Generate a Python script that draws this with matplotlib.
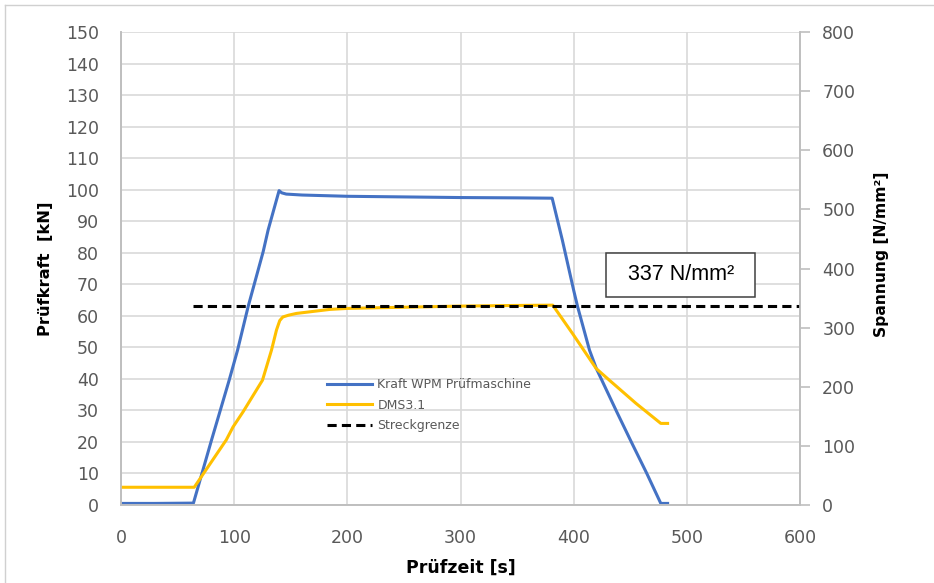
import matplotlib
matplotlib.use("Agg")
import matplotlib.pyplot as plt
from matplotlib.patches import Rectangle
from matplotlib.lines import Line2D

# Prüfkraft der Prüfmaschine [kN] über der Zeit [s]
t_kraft = [0, 30, 64, 80, 95.6, 103, 112.4, 125.6, 130, 139.7, 142, 146, 160, 200,
           250, 300, 350, 381, 390, 400, 403.4, 414, 420, 438, 451.6, 464.5, 477, 483]
kraft = [0.5, 0.5, 0.6, 20.6, 39.6, 49.1, 63.0, 80.3, 87.2, 99.7, 99.0, 98.6, 98.3, 97.9,
         97.7, 97.5, 97.4, 97.3, 84.0, 68.1, 63.0, 49.1, 43.3, 29.6, 19.5, 10.1, 0.5, 0.5]

# Spannung aus Dehnmessstreifen DMS3.1 [N/mm²]
t_dms = [0, 64.7, 93, 99, 108, 125, 133, 137.4, 140.3, 143, 148, 155, 184.5, 200,
         250, 300, 350, 381.5, 399, 419.8, 431.6, 455, 477, 483]
dms = [30, 30, 110, 132, 158, 211, 262, 296, 312, 318, 321, 324, 330.8, 332.5,
       334.5, 336.4, 337.5, 338, 290, 231, 211, 172, 138, 138]

# Streckgrenze [N/mm²]
streckgrenze = 337
t_streck = [64, 600]

x_ticks = [0, 100, 200, 300, 400, 500, 600]
y_left_ticks = list(range(0, 151, 10))
y_right_ticks = list(range(0, 801, 100))

BLUE = "#4472C4"
ORANGE = "#FFC000"
GRID = "#D9D9D9"
SPINE = "#BFBFBF"
TXT = "#595959"

fig = plt.figure(figsize=(9.34, 5.83), dpi=100)
ax = fig.add_axes([121 / 934, 1 - 505 / 583, (800 - 121) / 934, (505 - 32) / 583])
ax2 = ax.twinx()

# Rahmen der Grafik
fig.add_artist(Line2D([5 / 934, 5 / 934], [0, 1 - 5 / 583], transform=fig.transFigure,
                      color="#D0D0D0", lw=1))
fig.add_artist(Line2D([5 / 934, 1], [1 - 5 / 583, 1 - 5 / 583], transform=fig.transFigure,
                      color="#D0D0D0", lw=1))

ax.set_xlim(0, 600)
ax.set_ylim(0, 150)
ax2.set_ylim(0, 800)
ax.set_xticks(x_ticks)
ax.set_yticks(y_left_ticks)
ax2.set_yticks(y_right_ticks)

ax.grid(True, color=GRID, lw=1.2)
ax.set_axisbelow(True)

ax.spines["top"].set_visible(False)
ax2.spines["top"].set_visible(False)
for s in ["left", "bottom", "right"]:
    ax.spines[s].set_color(SPINE)
    ax2.spines[s].set_color(SPINE)
    ax.spines[s].set_linewidth(1.2)
    ax2.spines[s].set_linewidth(1.2)

ax.tick_params(axis="both", length=0, labelsize=12.5, labelcolor=TXT)
ax.tick_params(axis="y", pad=16)
ax.tick_params(axis="x", pad=17)
ax2.tick_params(axis="y", length=7, width=1.2, color=SPINE, pad=9,
                labelsize=12.5, labelcolor=TXT)

l1, = ax.plot(t_kraft, kraft, color=BLUE, lw=2.2, solid_joinstyle="round",
              label="Kraft WPM Prüfmaschine")
l2, = ax2.plot(t_dms, dms, color=ORANGE, lw=2.2, solid_joinstyle="round", label="DMS3.1")
l3, = ax2.plot(t_streck, [streckgrenze, streckgrenze], color="black", lw=2.2,
               dashes=(3, 1.7), label="Streckgrenze")

ax.set_xlabel("Prüfzeit [s]", fontsize=12.5, fontweight="bold", labelpad=9)
ax.set_ylabel("Prüfkraft  [kN]", fontsize=11.8, fontweight="bold")
ax.yaxis.set_label_coords(-0.100, 0.5)
ax2.set_ylabel("Spannung [N/mm²]", fontsize=11.2, fontweight="bold")
ax2.yaxis.set_label_coords(1.109, 0.531)

leg = ax.legend(handles=[l1, l2, l3], loc="center left", bbox_to_anchor=(0.303, 0.211),
                frameon=False, fontsize=9, labelcolor=TXT, handlelength=3.6,
                handletextpad=0.45, labelspacing=0.6, borderpad=0, borderaxespad=0)

# Beschriftung der Streckgrenze
ax.add_patch(Rectangle((429, 66), 131, 14, facecolor="white", edgecolor="#404040",
                       lw=1.1, zorder=5))
ax.text(494.5, 73, f"{streckgrenze} N/mm²", ha="center", va="center", fontsize=15.5,
        family="Liberation Sans", zorder=6)

fig.savefig("out.png", dpi=100)
